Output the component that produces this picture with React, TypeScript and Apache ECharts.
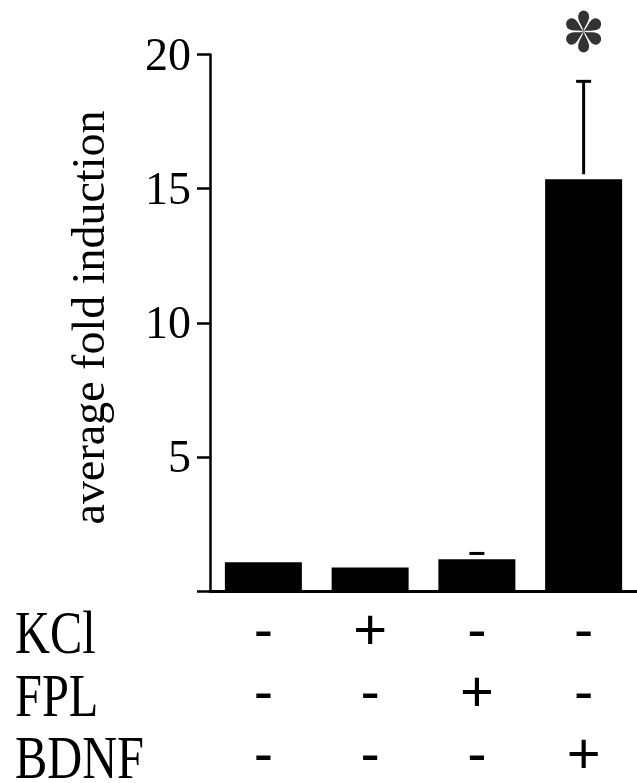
import React, { useEffect, useRef } from "react";
import * as echarts from "echarts";

// ---- data ----
const conditions = ["control", "KCl", "FPL", "BDNF"];
const treatmentNames = ["KCl", "FPL", "BDNF"];
const kclRow = ["-", "+", "-", "-"];
const fplRow = ["-", "-", "+", "-"];
const bdnfRow = ["-", "-", "-", "+"];
const meanValues = [1.07, 0.88, 1.18, 15.35];
const errorHigh: (number | null)[] = [null, null, 1.4, 19.0];
const significance = ["", "", "", "*"];
const yMin = 0;
const yMax = 20;
const yInterval = 5;
const asteriskLevel = 20.86;

const SERIF = "'Times New Roman', 'Liberation Serif', Times, serif";
const SANS = "Arial, 'Liberation Sans', Helvetica, sans-serif";

// six teardrop petal asterisk path
function asteriskPath(): string {
  const parts: string[] = [];
  const f = (n: number) => n.toFixed(3);
  for (let k = 0; k < 6; k++) {
    const th = (k * Math.PI) / 3;
    const d = [Math.sin(th), -Math.cos(th)];
    const n = [Math.cos(th), Math.sin(th)];
    const P = (u: number, v: number) => `${f(u * d[0] + v * n[0])} ${f(u * d[1] + v * n[1])}`;
    parts.push(
      `M ${P(0, 0)} C ${P(0.2, -0.03)} ${P(0.45, -0.28)} ${P(0.72, -0.28)} A 0.28 0.28 0 0 1 ${P(0.72, 0.28)} C ${P(0.45, 0.28)} ${P(0.2, 0.03)} ${P(0, 0)} Z`
    );
  }
  return parts.join(" ");
}

export default function App() {
  const ref = useRef<HTMLDivElement>(null);
  useEffect(() => {
    document.body.style.margin = "0";
    const chart = echarts.init(ref.current!, null, { renderer: "svg" });
    const errData = errorHigh
      .map((h, i) => (h == null ? null : [i, meanValues[i], h]))
      .filter((x) => x != null);
    const sigData = significance
      .map((s, i) => (s ? [i, asteriskLevel] : null))
      .filter((x) => x != null);
    const rowYs = [632, 695, 757];
    chart.setOption({
      animation: false,
      grid: { left: 210, top: 54.5, height: 545.5, width: 436, containLabel: false },
      xAxis: {
        type: "category",
        data: conditions,
        axisLine: { lineStyle: { color: "#000", width: 3 } },
        axisTick: { show: false },
        axisLabel: {
          interval: 0,
          margin: 6,
          color: "#000",
          fontFamily: SANS,
          fontSize: 58,
          lineHeight: 62,
          formatter: (_v: string, i: number) => [kclRow[i], fplRow[i], bdnfRow[i]].join("\n"),
        },
      },
      yAxis: {
        type: "value",
        min: yMin,
        max: yMax,
        interval: yInterval,
        splitLine: { show: false },
        axisLine: { show: true, lineStyle: { color: "#000", width: 2.5 } },
        axisTick: { show: true, length: 13, lineStyle: { color: "#000", width: 2.5 } },
        axisLabel: {
          margin: 19,
          color: "#000",
          fontFamily: SERIF,
          fontSize: 46,
          formatter: (v: number) => (v === 0 ? "" : String(v)),
        },
      },
      series: [
        {
          type: "bar",
          data: meanValues,
          barWidth: 77,
          itemStyle: { color: "#000" },
          z: 2,
        },
        {
          type: "custom",
          data: errData,
          encode: { x: 0, y: [1, 2] },
          z: 3,
          renderItem: (_params: any, api: any) => {
            const i = api.value(0);
            const top = api.coord([i, api.value(1)]);
            const hi = api.coord([i, api.value(2)]);
            const children: any[] = [];
            const startY = top[1] - 5;
            if (startY > hi[1]) {
              children.push({
                type: "line",
                shape: { x1: top[0], y1: startY, x2: hi[0], y2: hi[1] },
                style: { stroke: "#000", lineWidth: 3 },
              });
            }
            children.push({
              type: "line",
              shape: { x1: hi[0] - 7.5, y1: hi[1], x2: hi[0] + 7.5, y2: hi[1] },
              style: { stroke: "#000", lineWidth: 3 },
            });
            return { type: "group", children };
          },
        },
        {
          type: "scatter",
          data: sigData,
          clip: false,
          symbol: "path://" + asteriskPath(),
          symbolSize: [35, 42],
          itemStyle: { color: "#000" },
          z: 4,
        },
      ],
      graphic: [
        {
          type: "text",
          x: 88,
          y: 317.5,
          rotation: Math.PI / 2,
          style: {
            text: "average fold induction",
            font: `46px ${SERIF}`,
            fill: "#000",
            textAlign: "center",
            textVerticalAlign: "middle",
          },
        },
        ...treatmentNames.map((t, k) => ({
          type: "text",
          x: 15,
          y: rowYs[k],
          scaleX: 0.78,
          style: {
            text: t,
            font: `62px ${SERIF}`,
            lineHeight: 44,
            fill: "#000",
            textAlign: "left",
            textVerticalAlign: "middle",
          },
        })),
      ],
    });
    return () => chart.dispose();
  }, []);
  return <div ref={ref} style={{ position: "fixed", left: 0, top: 0, width: 637, height: 783 }} />;
}
